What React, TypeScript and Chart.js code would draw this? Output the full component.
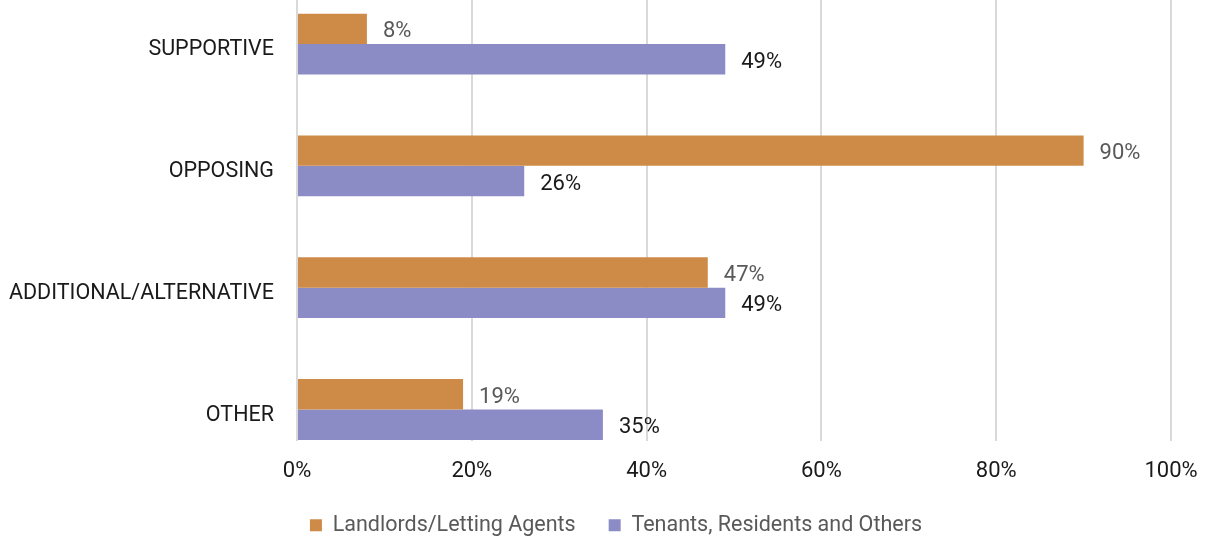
import React, { useEffect, useRef } from "react";
import { Chart, registerables } from "chart.js";

Chart.register(...registerables);

const categories = ["SUPPORTIVE", "OPPOSING", "ADDITIONAL/ALTERNATIVE", "OTHER"];
const seriesNames = ["Landlords/Letting Agents", "Tenants, Residents and Others"];
const landlords = [8, 90, 47, 19];
const tenants = [49, 26, 49, 35];
const xTicks = [0, 20, 40, 60, 80, 100];

const ORANGE = "#CE8B48";
const PURPLE = "#8B8BC6";
const FONT = "Roboto";

const labelPlugin = {
  id: "barLabels",
  afterDatasetsDraw(chart: any) {
    const ctx = chart.ctx;
    ctx.save();
    ctx.font = `22px ${FONT}`;
    ctx.textAlign = "left";
    ctx.textBaseline = "middle";
    chart.data.datasets.forEach((ds: any, di: number) => {
      const meta = chart.getDatasetMeta(di);
      ctx.fillStyle = di === 0 ? "#595959" : "#1a1a1a";
      meta.data.forEach((bar: any, i: number) => {
        const v = ds.data[i].x;
        ctx.fillText(`${v}%`, bar.x + 16, bar.y + 3);
      });
    });
    ctx.restore();
  },
};

export default function App() {
  const ref = useRef<HTMLCanvasElement>(null);
  useEffect(() => {
    if (!ref.current) return;
    const chart = new Chart(ref.current, {
      type: "bar",
      data: {
        datasets: [
          {
            label: seriesNames[0],
            data: landlords.map((v, i) => ({ x: v, y: i })),
            backgroundColor: ORANGE,
            categoryPercentage: 0.5,
            barPercentage: 1,
          },
          {
            label: seriesNames[1],
            data: tenants.map((v, i) => ({ x: v, y: i })),
            backgroundColor: PURPLE,
            categoryPercentage: 0.5,
            barPercentage: 1,
          },
        ],
      },
      plugins: [labelPlugin],
      options: {
        indexAxis: "y",
        animation: false,
        responsive: false,
        layout: { padding: { left: 0, right: -24, top: 0, bottom: -6 } },
        scales: {
          x: {
            type: "linear",
            min: 0,
            max: 100,
            afterBuildTicks: (axis: any) => {
              axis.ticks = xTicks.map((v) => ({ value: v }));
            },
            afterFit: (axis: any) => {
              axis.height = 41;
              axis.paddingRight = 37;
            },
            grid: { color: "#d9d9d9", lineWidth: 2, drawTicks: false },
            border: { display: false },
            ticks: {
              padding: 18,
              color: "#1a1a1a",
              font: { family: FONT, size: 22 },
              callback: (v: any) => `${v}%`,
              maxRotation: 0,
            },
          },
          y: {
            type: "linear",
            reverse: true,
            offset: false,
            min: -0.362,
            max: 3.255,
            afterBuildTicks: (axis: any) => {
              axis.ticks = categories.map((_, i) => ({ value: i }));
            },
            afterFit: (axis: any) => {
              axis.width = 297;
              axis.paddingTop = 0;
              axis.paddingBottom = 0;
            },
            grid: { display: false, drawTicks: false },
            border: { display: false },
            ticks: {
              padding: 23,
              labelOffset: 6,
              color: "#1a1a1a",
              font: { family: FONT, size: 21.5 },
              callback: (v: any) => categories[v] ?? "",
            },
          },
        },
        plugins: {
          legend: {
            position: "bottom",
            labels: {
              boxWidth: 12,
              boxHeight: 12,
              padding: 33,
              color: "#595959",
              font: { family: FONT, size: 21.5 },
            },
          },
          tooltip: { enabled: false },
        },
      } as any,
    });
    return () => chart.destroy();
  }, []);
  return (
    <div style={{ position: "fixed", top: 0, left: 0, width: 1208, height: 540, background: "#fff" }}>
      <canvas ref={ref} width={1208} height={540} />
    </div>
  );
}
